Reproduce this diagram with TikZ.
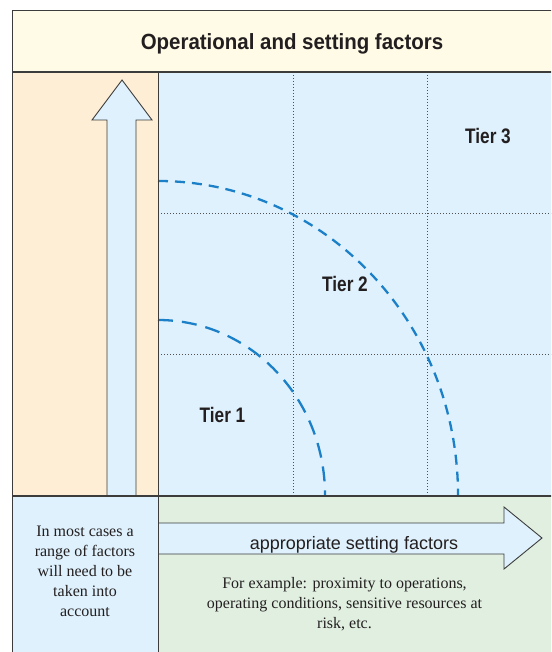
\documentclass[tikz,border=0pt]{standalone}
\usepackage{fontspec}
\setmainfont{Liberation Serif}
\setsansfont{Liberation Sans}
\newfontfamily\headfont[FakeStretch=0.93]{Liberation Sans}
\newfontfamily\tierfont[FakeStretch=0.82]{Liberation Sans}

\definecolor{titlecream}{RGB}{255,251,231}
\definecolor{peach}{RGB}{254,238,214}
\definecolor{sky}{RGB}{223,241,252}
\definecolor{mint}{RGB}{224,239,224}
\definecolor{linegray}{RGB}{60,60,60}
\definecolor{gridgray}{RGB}{80,80,80}
\definecolor{arcblue}{RGB}{28,128,200}
\definecolor{ink}{RGB}{35,31,32}

\begin{document}
\begin{tikzpicture}[x=1pt,y=-1pt,
    frame/.style={draw=linegray,line width=1pt},
    gridline/.style={draw=gridgray,line width=0.8pt,dash pattern=on 1.2pt off 1.8pt},
    tierarc/.style={draw=arcblue,line width=2.3pt},
    blockarrow/.style={fill=sky,draw=linegray,line width=0.9pt,line join=miter},
    tier/.style={anchor=base,text=ink,font=\tierfont\bfseries\fontsize{21}{21}\selectfont},
    serifnote/.style={anchor=base,align=center,text=ink,font=\fontsize{16}{20}\selectfont}]
        \useasboundingbox(0,0)rectangle(551,652);
        \clip(0,0)rectangle(551,652);

        \fill[titlecream](12,11)rectangle(560,72);
        \fill[peach](12,72)rectangle(158,496);
        \fill[sky](158,72)rectangle(560,496);
        \fill[sky](12,496)rectangle(158,660);
        \fill[mint](158,496)rectangle(560,660);

        \foreach \gx in {293,427}
            \draw[gridline](\gx,72)--(\gx,496);
        \foreach \gy in {213,354}
            \draw[gridline](158,\gy)--(560,\gy);

        \draw[tierarc,dash pattern=on 15pt off 9pt](158,320)arc[start angle=-90,end angle=0,x radius=167,y radius=175];
        \draw[tierarc,dash pattern=on 10pt off 7pt](158,181)arc[start angle=-90,end angle=0,x radius=300,y radius=314];

        \draw[blockarrow](107,496)--(107,120)--(92,120)--(122,80)--(152,120)--(136,120)--(136,496);
        \draw[blockarrow](158,523)--(504,523)--(504,507)--(542,538)--(504,569)--(504,554)--(158,554);

        \draw[frame](12,660)--(12,11)--(560,11);
        \draw[frame,line width=1.3pt](12,72)--(560,72);
        \draw[frame](158,72)--(158,660);
        \draw[frame,line width=1.5pt](12,496)--(560,496);

        \node[anchor=base,text=ink,font=\headfont\bfseries\fontsize{22}{22}\selectfont](title)at(292,49.5){Operational and setting factors};
        \node[tier](tierthree)at(488,144){Tier 3};
        \node[tier](tiertwo)at(345,291.7){Tier 2};
        \node[tier](tierone)at(222.5,422.7){Tier 1};
        \node[anchor=base,text=ink,font=\sffamily\fontsize{18}{18}\selectfont](setting)at(354,549.3){appropriate setting factors};
        \node[serifnote](cases)at(85,616){In most cases a\\range of factors\\will need to be\\taken into\\account};
        \node[serifnote](example)at(344.5,628){For example: proximity to operations,\\operating conditions, sensitive resources at\\risk, etc.};
    \end{tikzpicture}
\end{document}
